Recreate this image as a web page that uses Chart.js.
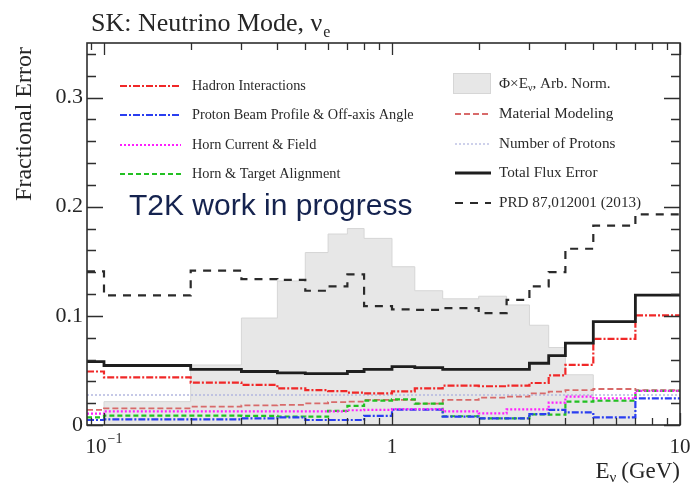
<!DOCTYPE html>
<html>
<head>
<meta charset="utf-8">
<script src="https://cdn.jsdelivr.net/npm/chart.js@4.4.1/dist/chart.umd.min.js"></script>
<style>
  html, body { margin: 0; padding: 0; background: #ffffff; }
  canvas { display: block; }
</style>
</head>
<body>
<canvas id="fluxErr" width="694" height="486"></canvas>
<script>
// Energy bin edges (GeV) of the SK nu_e flux histograms
const binEdges = [0, 0.1, 0.2, 0.3, 0.4, 0.5, 0.6, 0.7, 0.8, 1.0, 1.2, 1.5, 2.0, 2.5, 3.0, 3.5, 4.0, 5.0, 7.0, 10.0];

// Flux x energy, arbitrary normalisation (grey shape)
const fluxShape = [0.000, 0.0214, 0.055, 0.098, 0.132, 0.158, 0.175, 0.180, 0.171, 0.145, 0.123, 0.1156, 0.118, 0.110, 0.0914, 0.071, 0.046, 0.022, 0.000];

// Fractional errors per bin
const hadronInteractions = [0.049, 0.0437, 0.0388, 0.0367, 0.0336, 0.032, 0.031, 0.0297, 0.029, 0.0308, 0.0336, 0.036, 0.0355, 0.036, 0.0385, 0.0455, 0.055, 0.079, 0.1005];
const protonBeam = [0.0046, 0.0052, 0.0052, 0.006, 0.007, 0.0046, 0.0046, 0.0046, 0.0083, 0.014, 0.014, 0.0076, 0.006, 0.006, 0.010, 0.0138, 0.0115, 0.007, 0.0244];
const hornCurrent = [0.0105, 0.0125, 0.0125, 0.0125, 0.0125, 0.0125, 0.0125, 0.0135, 0.0138, 0.0146, 0.0146, 0.0125, 0.0107, 0.0144, 0.0144, 0.0205, 0.026, 0.0244, 0.0312];
const hornAlignment = [0.007, 0.0085, 0.0085, 0.0083, 0.0078, 0.0076, 0.013, 0.0175, 0.0223, 0.0235, 0.0195, 0.008, 0.006, 0.006, 0.0098, 0.0095, 0.0214, 0.0223, 0.0312];
const materialModeling = [0.0138, 0.0153, 0.0168, 0.018, 0.0185, 0.0199, 0.021, 0.0214, 0.023, 0.023, 0.0195, 0.023, 0.025, 0.026, 0.029, 0.0306, 0.032, 0.033, 0.032];
const protonNumber = [0.0275, 0.0275, 0.0275, 0.0275, 0.0275, 0.0275, 0.0275, 0.0275, 0.0275, 0.0275, 0.0275, 0.0275, 0.0275, 0.0275, 0.0275, 0.0275, 0.0275, 0.0275, 0.0275];
const totalFlux = [0.058, 0.0545, 0.051, 0.049, 0.0478, 0.047, 0.047, 0.049, 0.051, 0.0535, 0.0526, 0.051, 0.051, 0.051, 0.0566, 0.0635, 0.075, 0.0948, 0.119];
const prd2013 = [0.1407, 0.1187, 0.1415, 0.1336, 0.133, 0.123, 0.127, 0.138, 0.109, 0.106, 0.1055, 0.107, 0.1025, 0.1147, 0.127, 0.140, 0.1615, 0.1826, 0.193];

// Axis ticks and labels
const yTickValues = [0, 0.1, 0.2, 0.3];
const yTickLabels = ['0', '0.1', '0.2', '0.3'];
const xTickValues = [0.1, 1, 10];
const xTickLabels = [['10', '\u22121'], ['1', ''], ['10', '']];

// Legend labels
const legendLeft = ['Hadron Interactions', 'Proton Beam Profile & Off-axis Angle', 'Horn Current & Field', 'Horn & Target Alignment'];
const legendRight = [['\u03A6\u00D7E', '\u03BD', ', Arb. Norm.'], ['Material Modeling'], ['Number of Protons'], ['Total Flux Error'], ['PRD 87,012001 (2013)']];

const SERIF = '"Liberation Serif", "DejaVu Serif", serif';

// Histogram outline: one point per lower bin edge, plus the upper edge of the last bin
function histPoints(values) {
  const pts = values.map((v, i) => ({ x: binEdges[i], y: v }));
  pts.push({ x: binEdges[binEdges.length - 1], y: values[values.length - 1] });
  return pts;
}

function line(label, values, color, dash, width, order) {
  return {
    label, data: histPoints(values), stepped: 'before',
    borderColor: color, borderDash: dash, borderWidth: width,
    pointRadius: 0, fill: false, order
  };
}

const datasets = [
  {
    label: 'flux', data: histPoints(fluxShape), stepped: 'before',
    borderColor: '#d6d6d6', borderWidth: 1, backgroundColor: '#e7e7e7',
    pointRadius: 0, fill: 'origin', order: 20
  },
  line('Number of Protons', protonNumber, '#b4b8e0', [2, 2], 1.3, 9),
  line('Material Modeling', materialModeling, '#d86a6a', [6, 3], 1.8, 8),
  line('Horn & Target Alignment', hornAlignment, '#22c022', [5, 3], 2.2, 7),
  line('Proton Beam Profile & Off-axis Angle', protonBeam, '#2a3ef0', [7, 2, 2, 2], 2.2, 6),
  line('Horn Current & Field', hornCurrent, '#ff1eff', [2, 2], 2.2, 5),
  line('Hadron Interactions', hadronInteractions, '#f02828', [7, 2, 2, 2], 2.2, 4),
  line('PRD 87,012001 (2013)', prd2013, '#2a2a2a', [8, 7], 2.2, 3),
  line('Total Flux Error', totalFlux, '#1e1e1e', [], 2.8, 2)
];

function byLabel(chart, label) {
  return chart.data.datasets.find(d => d.label === label);
}

// Frame, inward ticks, tick labels, axis titles
const frameAxes = {
  id: 'frameAxes',
  afterDatasetsDraw(chart) {
    const { ctx, chartArea: a, scales: { x, y } } = chart;
    ctx.save();
    ctx.strokeStyle = '#2e2e2e';
    ctx.lineWidth = 1.3;
    ctx.beginPath();
    for (let i = 0; i <= 17; i++) {
      const py = Math.round(y.getPixelForValue(i * 0.02)) + 0.5;
      const len = i % 5 === 0 ? 16 : 9;
      ctx.moveTo(a.left, py); ctx.lineTo(a.left + len, py);
      ctx.moveTo(a.right, py); ctx.lineTo(a.right - len, py);
    }
    for (let d = -2; d <= 1; d++) {
      for (let m = 1; m <= 9; m++) {
        const v = m * Math.pow(10, d);
        if (v < x.min - 1e-9 || v > x.max + 1e-9) continue;
        const px = Math.round(x.getPixelForValue(v)) + 0.5;
        const len = m === 1 ? 12 : 7;
        ctx.moveTo(px, a.bottom); ctx.lineTo(px, a.bottom - len);
        ctx.moveTo(px, a.top); ctx.lineTo(px, a.top + len);
      }
    }
    ctx.stroke();
    ctx.lineWidth = 1.6;
    ctx.strokeRect(a.left, a.top, a.right - a.left, a.bottom - a.top);

    ctx.fillStyle = '#262626';
    // y tick labels
    ctx.font = '22px ' + SERIF;
    ctx.textAlign = 'right';
    ctx.textBaseline = 'middle';
    yTickValues.forEach((v, i) => {
      ctx.fillText(yTickLabels[i], a.left - 4, y.getPixelForValue(v));
    });
    // x tick labels (base with optional exponent), centred as a whole on the tick
    ctx.textBaseline = 'alphabetic';
    ctx.textAlign = 'left';
    xTickValues.forEach((v, i) => {
      const [base, exp] = xTickLabels[i];
      ctx.font = '21px ' + SERIF;
      const wb = ctx.measureText(base).width;
      ctx.font = '14px ' + SERIF;
      const we = exp ? ctx.measureText(exp).width + 1 : 0;
      let px = x.getPixelForValue(v) - (wb + we) / 2;
      if (v === x.max) px = Math.min(px, chart.width - wb - 2);
      ctx.font = '21px ' + SERIF;
      ctx.fillText(base, px, a.bottom + 28);
      if (exp) {
        ctx.font = '14px ' + SERIF;
        ctx.fillText(exp, px + wb + 1, a.bottom + 18);
      }
    });
    // x axis title, right-aligned to the frame
    ctx.font = '23px ' + SERIF;
    const wE = ctx.measureText('E').width;
    const wG = ctx.measureText('(GeV)').width;
    ctx.font = '15px ' + SERIF;
    const wN = ctx.measureText('\u03BD').width;
    const ty = a.bottom + 53;
    let tx = a.right - (wE + wN + 5 + wG);
    ctx.font = '23px ' + SERIF;
    ctx.fillText('E', tx, ty);
    tx += wE;
    ctx.font = '15px ' + SERIF;
    ctx.fillText('\u03BD', tx, ty + 4);
    tx += wN + 5;
    ctx.font = '23px ' + SERIF;
    ctx.fillText('(GeV)', tx, ty);
    // y axis title
    ctx.save();
    ctx.translate(31, a.top + 4);
    ctx.rotate(-Math.PI / 2);
    ctx.textAlign = 'right';
    ctx.font = '24px ' + SERIF;
    ctx.fillText('Fractional Error', 0, 0);
    ctx.restore();
    // plot title
    ctx.font = '26px ' + SERIF;
    ctx.textAlign = 'left';
    const tt = 'SK: Neutrino Mode, \u03BD';
    ctx.fillText(tt, 91, 31);
    const tw = ctx.measureText(tt).width;
    ctx.font = '16px ' + SERIF;
    ctx.fillText('e', 91 + tw + 1, 37);
    ctx.restore();
  }
};

// Two-column legend inside the frame, samples styled from the datasets
const legendBox = {
  id: 'legendBox',
  afterDatasetsDraw(chart) {
    const { ctx } = chart;
    ctx.save();
    const sample = (ds, x0, x1, yy) => {
      ctx.beginPath();
      ctx.strokeStyle = ds.borderColor;
      ctx.lineWidth = ds.borderWidth;
      ctx.setLineDash(ds.borderDash || []);
      ctx.moveTo(x0, yy); ctx.lineTo(x1, yy);
      ctx.stroke();
      ctx.setLineDash([]);
    };
    ctx.font = '14.3px ' + SERIF;
    ctx.fillStyle = '#2a2a2a';
    ctx.textBaseline = 'middle';
    ctx.textAlign = 'left';
    const leftRows = [86, 115, 145, 174];
    legendLeft.forEach((lab, i) => {
      sample(byLabel(chart, lab), 120, 181, leftRows[i]);
      ctx.fillText(lab, 192, leftRows[i]);
    });
    const rightRows = [84, 114, 144, 173, 203];
    const RF = '15.2px ' + SERIF;
    ctx.font = RF;
    legendRight.forEach((parts, i) => {
      const yy = rightRows[i];
      if (i === 0) {
        const f = chart.data.datasets[0];
        ctx.fillStyle = f.backgroundColor;
        ctx.fillRect(453, 73, 38, 21);
        ctx.strokeStyle = f.borderColor;
        ctx.lineWidth = 1;
        ctx.strokeRect(453.5, 73.5, 37, 20);
        ctx.fillStyle = '#2a2a2a';
        let px = 499;
        ctx.font = RF;
        ctx.fillText(parts[0], px, yy);
        px += ctx.measureText(parts[0]).width;
        ctx.font = '10px ' + SERIF;
        ctx.fillText(parts[1], px, yy + 4);
        px += ctx.measureText(parts[1]).width;
        ctx.font = RF;
        ctx.fillText(parts[2], px, yy);
      } else {
        sample(byLabel(chart, parts[0]), 455, 491, yy);
        ctx.fillText(parts[0], 499, yy);
      }
    });
    // preliminary-result stamp
    ctx.font = '30px "Liberation Sans", Arial, sans-serif';
    ctx.fillStyle = '#15234f';
    ctx.textBaseline = 'alphabetic';
    ctx.fillText('T2K work in progress', 129, 215);
    ctx.restore();
  }
};

new Chart(document.getElementById('fluxErr'), {
  type: 'line',
  data: { datasets },
  options: {
    responsive: false,
    animation: false,
    devicePixelRatio: 1,
    layout: { padding: { left: 87, top: 43, right: 14, bottom: 61 } },
    plugins: { legend: { display: false }, tooltip: { enabled: false }, title: { display: false } },
    scales: {
      x: { type: 'logarithmic', min: 0.0873, max: 10, display: false },
      y: { type: 'linear', min: 0, max: 0.35, display: false }
    }
  },
  plugins: [frameAxes, legendBox]
});
</script>
</body>
</html>
